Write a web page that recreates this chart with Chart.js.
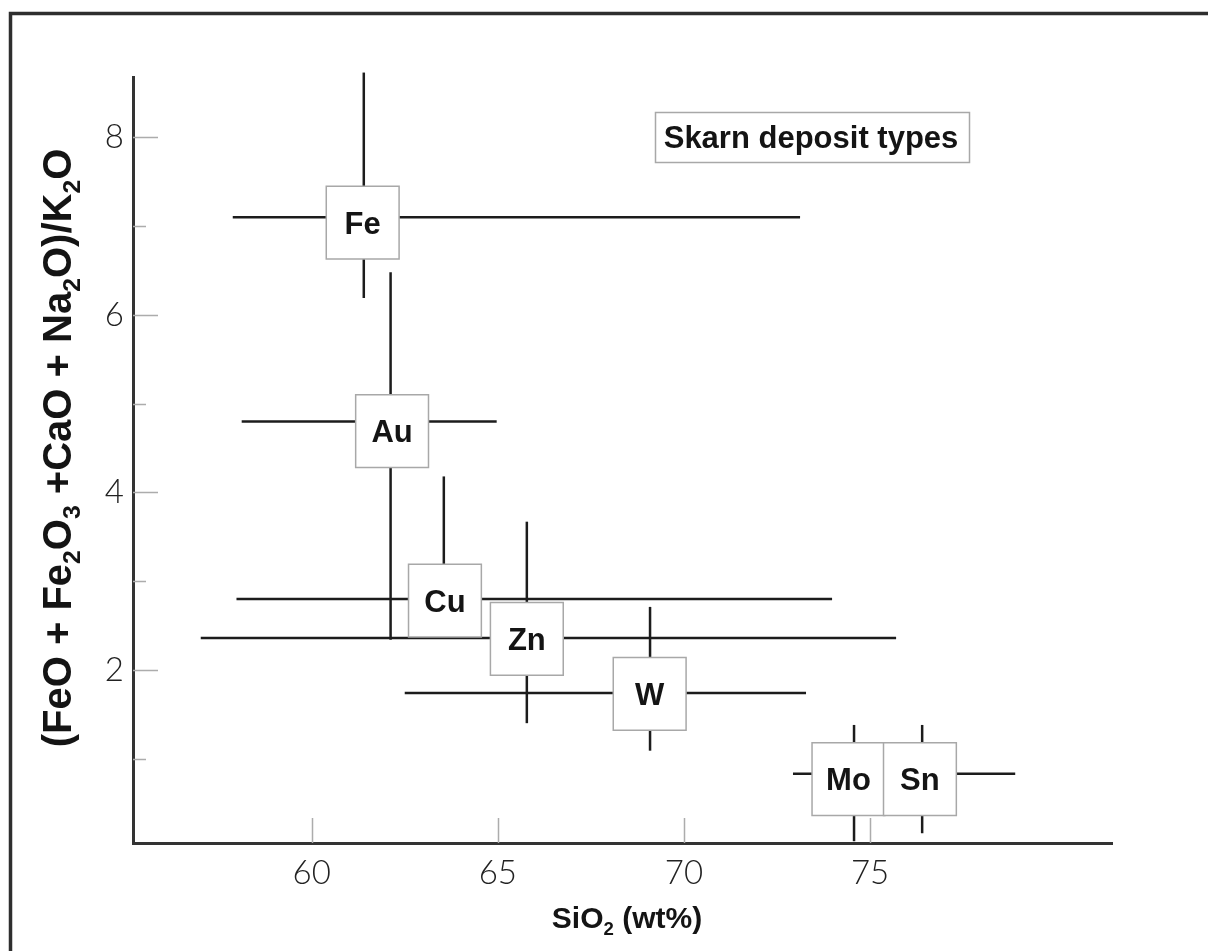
<!DOCTYPE html>
<html><head><meta charset="utf-8">
<script src="https://cdn.jsdelivr.net/npm/chart.js@4.4.1/dist/chart.umd.min.js"></script>
<style>html,body{margin:0;padding:0;background:#fff;}#wrap{width:1208px;height:951px;position:relative;}</style>
</head><body><div id="wrap"><canvas id="c" width="1208" height="951"></canvas></div>
<script>
// ---- data ----
const deposits    = ['Fe', 'Au', 'Cu', 'Zn', 'W', 'Mo', 'Sn'];
const siO2Center  = [61.40, 62.12, 63.55, 65.78, 69.09, 74.57, 76.40];
const ratioCenter = [7.10, 4.80, 2.80, 2.36, 1.74, 0.83, 0.83];
const siO2Min     = [57.88, 58.12, 57.98, 57.02, 62.50, 72.93, 75.40];
const siO2Max     = [73.12, 64.97, 73.98, 75.70, 73.28, 75.60, 78.90];
const ratioMin    = [6.19, 2.34, 2.40, 1.40, 1.09, 0.07, 0.16];
const ratioMax    = [8.73, 6.48, 4.18, 3.67, 2.71, 1.38, 1.38];
const boxSiO2     = [61.37, 62.16, 63.58, 65.78, 69.08, 74.42, 76.34];
const boxRatio    = [7.04, 4.69, 2.78, 2.35, 1.73, 0.77, 0.77];
const xTickValues = [60, 65, 70, 75];
const yTickValues = [2, 4, 6, 8];
const yMinorValues = [1, 3, 5, 7];
const legendText = 'Skarn deposit types';
const xTitle = [{t:'SiO'},{t:'2',sub:true},{t:' (wt%)'}];
const yTitle = [{t:'(FeO + Fe'},{t:'2',sub:true},{t:'O'},{t:'3',sub:true},{t:' +CaO + Na'},{t:'2',sub:true},{t:'O)/K'},{t:'2',sub:true},{t:'O'}];

const BOLD = 'bold %spx "Liberation Sans", Arial, sans-serif';
function bf(s){ return BOLD.replace('%s', s); }

function richWidth(ctx, segs, size){
  let w = 0;
  segs.forEach(s => { ctx.font = bf(s.sub ? size*0.62 : size); w += ctx.measureText(s.t).width; });
  return w;
}
function drawRich(ctx, segs, size, x0, y0){
  let x = x0;
  segs.forEach(s => {
    const sz = s.sub ? size*0.62 : size;
    ctx.font = bf(sz);
    ctx.fillText(s.t, x, y0 + (s.sub ? size*0.22 : 0));
    x += ctx.measureText(s.t).width;
  });
}

const datasets = [];
datasets.push({
  label: 'boxes',
  data: deposits.map((d, i) => ({x: boxSiO2[i], y: boxRatio[i]})),
  pointStyle: 'rect', pointRadius: 51.5, pointHoverRadius: 51.5,
  pointBackgroundColor: '#ffffff', pointBorderColor: '#a8a8a8', pointBorderWidth: 1.5,
  showLine: false, clip: false, order: 0
});
deposits.forEach((d, i) => {
  datasets.push({
    label: d + ' SiO2 range', showLine: true, clip: false, order: 1,
    data: [{x: siO2Min[i], y: ratioCenter[i]}, {x: siO2Max[i], y: ratioCenter[i]}],
    borderColor: '#1c1c1c', borderWidth: 2.5, pointRadius: 0, fill: false
  });
  datasets.push({
    label: d + ' ratio range', showLine: true, clip: false, order: 1,
    data: [{x: siO2Center[i], y: ratioMin[i]}, {x: siO2Center[i], y: ratioMax[i]}],
    borderColor: '#1c1c1c', borderWidth: 2.5, pointRadius: 0, fill: false
  });
});

const isInt = v => Math.abs(v - Math.round(v)) < 1e-6;

const decor = {
  id: 'decor',
  beforeDraw(chart){
    const ctx = chart.ctx;
    ctx.save();
    ctx.fillStyle = '#fff';
    ctx.fillRect(0, 0, chart.width, chart.height);
    ctx.strokeStyle = '#2e2e2e'; ctx.lineWidth = 3.5;
    ctx.beginPath();
    ctx.moveTo(10.5, 951); ctx.lineTo(10.5, 13.5); ctx.lineTo(1208, 13.5);
    ctx.stroke();
    ctx.restore();
  },
  beforeDatasetsDraw(chart){
    const ctx = chart.ctx, xs = chart.scales.x, ys = chart.scales.y, a = chart.chartArea;
    ctx.save();
    ctx.strokeStyle = '#acacac'; ctx.lineWidth = 1.5;
    ctx.beginPath();
    xTickValues.forEach(v => { const px = Math.round(xs.getPixelForValue(v)) + 0.5; ctx.moveTo(px, a.bottom); ctx.lineTo(px, a.bottom - 25); });
    yTickValues.forEach(v => { const py = Math.round(ys.getPixelForValue(v)) + 0.5; ctx.moveTo(a.left, py); ctx.lineTo(a.left + 25, py); });
    yMinorValues.forEach(v => { const py = Math.round(ys.getPixelForValue(v)) + 0.5; ctx.moveTo(a.left, py); ctx.lineTo(a.left + 13, py); });
    ctx.stroke();
    ctx.restore();
  },
  afterDraw(chart){
    const ctx = chart.ctx, xs = chart.scales.x, ys = chart.scales.y;
    ctx.save();
    ctx.fillStyle = '#141414';
    ctx.textBaseline = 'alphabetic';
    ctx.textAlign = 'left';
    // box labels
    const ls = 31;
    deposits.forEach((d, i) => {
      const px = xs.getPixelForValue(boxSiO2[i]), py = ys.getPixelForValue(boxRatio[i]);
      ctx.font = bf(ls);
      const w = ctx.measureText(d).width;
      ctx.fillText(d, px - w/2, py + ls*0.716/2);
    });
    // legend box
    ctx.strokeStyle = '#a8a8a8'; ctx.lineWidth = 1.5;
    ctx.strokeRect(655.5, 112.5, 314, 50);
    ctx.font = bf(31);
    const lw = ctx.measureText(legendText).width;
    ctx.fillText(legendText, 811 - lw/2, 137 + 31*0.716/2);
    // x title
    const xsz = 30;
    const xw = richWidth(ctx, xTitle, xsz);
    drawRich(ctx, xTitle, xsz, 627 - xw/2, 928);
    // y title
    const ysz = 40;
    const yw = richWidth(ctx, yTitle, ysz);
    ctx.translate(71, 448);
    ctx.rotate(-Math.PI/2);
    drawRich(ctx, yTitle, ysz, -yw/2, 0);
    ctx.restore();
  }
};

new Chart(document.getElementById('c'), {
  type: 'scatter',
  data: { datasets },
  plugins: [decor],
  options: {
    responsive: false, animation: false, events: [],
    layout: { padding: { left: 0, top: 77, right: 96, bottom: 0 } },
    plugins: { legend: { display: false }, tooltip: { enabled: false }, title: { display: false } },
    scales: {
      x: {
        type: 'linear', position: 'bottom', min: 55.2, max: 81.5,
        afterFit(s){ s.height = 108; },
        grid: { display: false, drawTicks: false },
        border: { display: true, color: '#333333', width: 3 },
        ticks: {
          stepSize: 5, autoSkip: false, maxRotation: 0, minRotation: 0, padding: 11,
          color: '#222', font: { family: 'Lato', size: 33, weight: '300' },
          callback: v => (isInt(v) && xTickValues.includes(Math.round(v))) ? String(Math.round(v)) : ''
        }
      },
      y: {
        type: 'linear', position: 'left', min: 0.05, max: 8.68,
        afterFit(s){ s.width = 133; },
        grid: { display: false, drawTicks: false },
        border: { display: true, color: '#333333', width: 3 },
        ticks: {
          stepSize: 1, autoSkip: false, padding: 9,
          color: '#222', font: { family: 'Lato', size: 33, weight: '300' },
          callback: v => (isInt(v) && yTickValues.includes(Math.round(v))) ? String(Math.round(v)) : ''
        }
      }
    }
  }
});
</script></body></html>
